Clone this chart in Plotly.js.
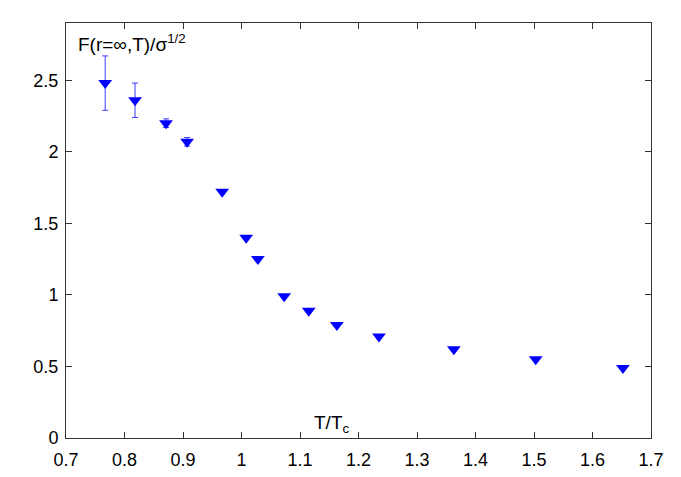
<!DOCTYPE html>
<html>
<head>
<meta charset="utf-8">
<script src="https://cdn.plot.ly/plotly-3.0.1.min.js"></script>
<style>
  html, body { margin: 0; padding: 0; background: #fff; }
  #chart { width: 681px; height: 477px; }
</style>
</head>
<body>
<div id="chart"></div>
<script>
// T/Tc values and free energy at infinite separation (units of sqrt(sigma))
const tOverTc = [0.767, 0.818, 0.871, 0.907, 0.967, 1.008, 1.028, 1.073, 1.115, 1.163, 1.235, 1.363, 1.503, 1.652];
const fInf    = [2.48, 2.36, 2.20, 2.07, 1.72, 1.40, 1.25, 0.99, 0.89, 0.79, 0.71, 0.62, 0.55, 0.49];
const fErr    = [0.19, 0.12, 0.03, 0.03, 0.01, 0.01, 0.01, 0.01, 0.01, 0.01, 0.01, 0.01, 0.01, 0.01];

const xTicks = [0.7, 0.8, 0.9, 1, 1.1, 1.2, 1.3, 1.4, 1.5, 1.6, 1.7];
const yTicks = [0, 0.5, 1, 1.5, 2, 2.5];

const trace = {
    x: tOverTc,
    y: fInf,
    type: 'scatter',
    mode: 'markers',
    marker: { symbol: 'triangle-down', size: 12, color: '#0000ff' },
    error_y: { type: 'data', array: fErr, visible: true, color: '#3a3aff', thickness: 1, width: 3 },
    hoverinfo: 'x+y'
};

const axisStyle = {
    showgrid: false,
    zeroline: false,
    showline: true,
    mirror: 'ticks',
    linecolor: '#333',
    linewidth: 1,
    ticks: 'inside',
    ticklen: 6,
    tickcolor: '#333',
    tickfont: { family: 'Liberation Sans, Arial, sans-serif', size: 18, color: '#000' }
};

const layout = {
    width: 681,
    height: 477,
    margin: { l: 66, r: 30, t: 23, b: 39 },
    paper_bgcolor: '#fff',
    plot_bgcolor: '#fff',
    showlegend: false,
    font: { family: 'Liberation Sans, Arial, sans-serif', size: 18, color: '#000' },
    xaxis: Object.assign({}, axisStyle, {
        range: [0.7, 1.7],
        tickvals: xTicks,
        ticktext: xTicks.map(String),
        ticklabelstandoff: 5
    }),
    yaxis: Object.assign({}, axisStyle, {
        range: [0, 2.9],
        tickvals: yTicks,
        ticktext: yTicks.map(String),
        ticklabelstandoff: 3
    }),
    annotations: [
        {
            text: 'F(r=∞,T)/σ<sup>1/2</sup>',
            xref: 'paper', yref: 'paper',
            x: 0.017, y: 0.985, xanchor: 'left', yanchor: 'top',
            showarrow: false,
            font: { size: 19 }
        },
        {
            text: 'T/T<sub>c</sub>',
            xref: 'paper', yref: 'paper',
            x: 0.454, y: 0.0, xanchor: 'center', yanchor: 'bottom',
            showarrow: false,
            font: { size: 19 }
        }
    ]
};

Plotly.newPlot('chart', [trace], layout, { displayModeBar: false, staticPlot: true });
</script>
</body>
</html>
